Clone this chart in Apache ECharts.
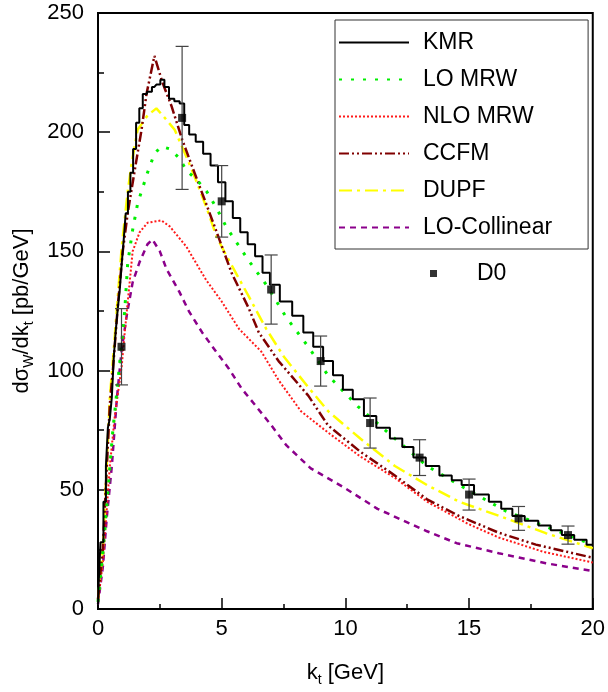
<!DOCTYPE html>
<html>
<head>
<meta charset="utf-8">
<script src="https://cdn.jsdelivr.net/npm/echarts@6.0.0/dist/echarts.min.js"></script>
<style>
  html, body { margin: 0; padding: 0; background: #fff; }
  #chart { width: 608px; height: 692px; }
</style>
</head>
<body>
<div id="chart"></div>
<script>
// values (k_t in GeV, dsigma/dk_t in pb/GeV)
const kmrX = [0, 0.04, 0.16, 0.28, 0.36, 0.44, 0.52, 0.6, 0.68, 0.76, 0.84, 0.92, 1.0, 1.08, 1.16, 1.26, 1.36, 1.48, 1.6, 1.74, 1.88, 2.08, 2.28, 2.44, 2.6, 2.77, 2.97, 3.2, 3.4, 3.57, 3.8, 4.1, 4.4, 4.7, 5.0, 5.3, 5.6, 5.9, 6.2, 6.5, 6.8, 7.1, 7.6, 8.1, 8.5, 8.9, 9.3, 9.7, 10.1, 10.5, 11.0, 11.5, 12.1, 12.5, 13.0, 13.5, 14.1, 14.5, 14.9, 15.5, 16.1, 16.5, 17.0, 17.5, 18.1, 18.5, 19.0, 19.5, 20];
const kmrY = [2, 9, 28, 45, 60, 76, 80, 89, 106, 117, 126, 134, 145, 155, 166, 175, 183, 193, 204, 210, 216, 217, 219, 220, 222, 219, 214, 213, 212, 203, 199, 196, 191, 186, 179, 171, 164, 158, 153, 148, 141, 136, 129, 123, 116, 110, 104, 98, 92, 88, 81, 76, 71.5, 68, 63.5, 60, 56, 54, 52, 48, 45, 42, 39, 37, 35, 33, 31, 29, 27];

const loMrwX = [0, 0.2, 0.4, 0.6, 0.8, 0.96, 1.08, 1.2, 1.4, 1.6, 2.0, 2.28, 2.56, 2.9, 3.3, 3.57, 4.0, 4.4, 4.8, 5.2, 6.1, 6.8, 7.6, 8.5, 9.3, 10.5, 12, 13.3, 14.6, 16.5, 18.5, 20];
const loMrwY = [3, 24, 49, 75, 95, 112, 125, 145, 159, 170, 183, 191, 194, 193, 189, 184, 180, 175, 168, 160, 146, 136, 122.5, 110, 98, 85, 71.5, 60, 52, 41, 33, 27];

const nloMrwX = [0, 0.2, 0.48, 0.68, 0.96, 1.08, 1.28, 1.4, 1.68, 2.0, 2.56, 2.9, 3.57, 4.37, 5.0, 5.7, 6.6, 7.3, 8.2, 9.3, 10.6, 12, 13.3, 15, 16.2, 18, 20];
const nloMrwY = [3, 20, 60, 81, 102, 116, 137, 150, 158, 162, 163, 160.5, 152, 138, 129, 117.5, 108, 96, 83, 74, 64, 55, 45, 35.5, 30, 24, 19.5];

const ccfmX = [0, 0.2, 0.48, 0.6, 0.8, 1.0, 1.2, 1.5, 1.76, 1.96, 2.28, 2.6, 2.97, 3.4, 3.9, 4.3, 4.8, 5.4, 6.1, 6.5, 7.3, 8.5, 9.3, 10.6, 12, 13.3, 14.6, 16.2, 17.7, 20];
const ccfmY = [4, 26, 86, 100, 127, 150, 166, 185, 201, 216, 232, 221, 211, 197, 183, 172, 158, 141, 126, 116, 104, 89.5, 77, 66, 56, 46, 39, 32, 27, 21.5];

const dupfX = [0, 0.2, 0.48, 0.6, 0.8, 0.96, 1.2, 1.36, 1.6, 2.0, 2.36, 2.7, 3.1, 3.5, 3.9, 4.4, 4.8, 5.2, 6.1, 6.8, 7.5, 8.5, 9.3, 10.6, 12, 13.3, 14.6, 16.5, 18.1, 20];
const dupfY = [4, 26, 89, 104, 131, 152, 175, 187, 201, 207, 210, 206, 201, 191.5, 181.5, 168, 156, 148, 131, 117.5, 106, 93, 83, 71.5, 60, 52, 45, 38, 31.8, 25.5];

const collX = [0, 0.2, 0.36, 0.56, 0.76, 0.96, 1.16, 1.4, 1.68, 2.0, 2.2, 2.5, 2.77, 3.29, 3.69, 4.21, 4.77, 5.29, 5.81, 6.37, 7.01, 7.62, 8.6, 10, 11.3, 13.3, 14.5, 16.2, 18.1, 20];
const collY = [2, 18, 39, 60, 88, 109, 123, 137, 145.5, 153, 155, 150, 142.6, 133, 124.6, 116, 108, 100.8, 92.4, 85.3, 77, 68.6, 59, 50.6, 42, 32.6, 27.6, 23.4, 19.2, 15.9];

const d0X = [0.95, 3.4, 5, 7, 9, 11, 13, 15, 17, 19];
const d0Y = [110, 206, 171, 134, 104, 78, 63.5, 48, 38, 31];
const d0Err = [16, 30, 15, 14.5, 10.5, 10.5, 7.5, 6.5, 5, 3.8];

const xTicks = [0, 5, 10, 15, 20];
const yTicks = [0, 50, 100, 150, 200, 250];

const pairs = (xs, ys) => xs.map((x, i) => [x, ys[i]]);
const font = 'Liberation Sans, Arial, Helvetica, sans-serif';

const chart = echarts.init(document.getElementById('chart'), null, { renderer: 'canvas' });

function lineSeries(name, xs, ys, color, width, type, extra) {
  return Object.assign({
    name: name,
    type: 'line',
    data: pairs(xs, ys),
    symbol: 'none',
    smooth: false,
    silent: true,
    lineStyle: { color: color, width: width, type: type },
    itemStyle: { color: color },
  }, extra || {});
}

const option = {
  animation: false,
  backgroundColor: '#fff',
  textStyle: { fontFamily: font },
  grid: {
    left: 98, right: 11, top: 13, bottom: 81,
    show: true, borderColor: '#000', borderWidth: 2,
  },
  legend: [{
    data: ['KMR', 'LO MRW', 'NLO MRW', 'CCFM', 'DUPF', 'LO-Collinear'],
    orient: 'vertical',
    left: 335,
    top: 20,
    itemWidth: 70,
    itemHeight: 14,
    itemGap: 14,
    padding: [11, 36, 10, 3],
    borderColor: '#333',
    borderWidth: 1,
    selectedMode: false,
    itemStyle: { opacity: 0 },
    textStyle: { fontSize: 23, color: '#000', fontFamily: font, padding: [0, 0, 0, 9] },
  }, {
    data: ['D0'],
    left: 430,
    top: 262,
    padding: 0,
    icon: 'rect',
    itemWidth: 7,
    itemHeight: 7,
    selectedMode: false,
    textStyle: { fontSize: 23, color: '#000', fontFamily: font, padding: [0, 0, 0, 35] },
  }],
  xAxis: {
    type: 'value',
    min: 0, max: 20, interval: 5,
    name: '{a|k}{s|t}{a| [GeV]}',
    nameLocation: 'middle',
    nameGap: 50,
    nameTextStyle: {
      rich: {
        a: { fontSize: 22, fontFamily: font, color: '#000' },
        s: { fontSize: 14, fontFamily: font, color: '#000', padding: [14, 0, 0, 0] },
      },
    },
    axisLine: { lineStyle: { color: '#000', width: 2 } },
    axisTick: { inside: true, length: 11, lineStyle: { color: '#000', width: 1.5 } },
    minorTick: { show: true, splitNumber: 2, length: 5, lineStyle: { color: '#000', width: 1.5 } },
    axisLabel: {
      fontSize: 22, color: '#000', margin: 9,
      formatter: v => (xTicks.includes(v) ? String(v) : ''),
    },
    splitLine: { show: false },
  },
  yAxis: {
    type: 'value',
    min: 0, max: 250, interval: 50,
    name: '{a|dσ}{s|W}{a|/dk}{s|t}{a| [pb/GeV]}',
    nameLocation: 'middle',
    nameGap: 57,
    nameRotate: 90,
    nameTextStyle: {
      rich: {
        a: { fontSize: 22, fontFamily: font, color: '#000' },
        s: { fontSize: 14, fontFamily: font, color: '#000', padding: [14, 0, 0, 0] },
      },
    },
    axisLine: { lineStyle: { color: '#000', width: 2 } },
    axisTick: { inside: true, length: 12, lineStyle: { color: '#000', width: 1.5 } },
    minorTick: { show: true, splitNumber: 2, length: 6, lineStyle: { color: '#000', width: 1.5 } },
    axisLabel: {
      fontSize: 22, color: '#000', margin: 14,
      formatter: v => (yTicks.includes(v) ? String(v) : ''),
    },
    splitLine: { show: false },
  },
  series: [
    lineSeries('LO-Collinear', collX, collY, '#8b008b', 2.5, [6, 5]),
    lineSeries('NLO MRW', nloMrwX, nloMrwY, '#ff1a1a', 2, [2, 2]),
    lineSeries('DUPF', dupfX, dupfY, '#ffff00', 2.5, [13, 5, 3, 5]),
    lineSeries('CCFM', ccfmX, ccfmY, '#800000', 2.5, [10, 3, 2, 3, 2, 3]),
    lineSeries('LO MRW', loMrwX, loMrwY, '#00ee00', 3, [3, 9]),
    lineSeries('KMR', kmrX, kmrY, '#000', 2, 'solid', { step: 'middle' }),
    {
      name: 'D0 err',
      type: 'custom',
      silent: true,
      data: d0X.map((x, i) => [x, d0Y[i] - d0Err[i], d0Y[i] + d0Err[i]]),
      renderItem: function (params, api) {
        const lo = api.coord([api.value(0), api.value(1)]);
        const hi = api.coord([api.value(0), api.value(2)]);
        const half = 6.5;
        const style = { stroke: '#444', lineWidth: 1.2 };
        return {
          type: 'group',
          children: [
            { type: 'line', shape: { x1: lo[0], y1: lo[1], x2: hi[0], y2: hi[1] }, style: style },
            { type: 'line', shape: { x1: lo[0] - half, y1: lo[1], x2: lo[0] + half, y2: lo[1] }, style: style },
            { type: 'line', shape: { x1: hi[0] - half, y1: hi[1], x2: hi[0] + half, y2: hi[1] }, style: style },
          ],
        };
      },
      z: 4,
    },
    {
      name: 'D0',
      type: 'scatter',
      data: pairs(d0X, d0Y),
      symbol: 'rect',
      symbolSize: 8,
      itemStyle: { color: '#000' },
      silent: true,
      z: 5,
    },
  ],
};

chart.setOption(option);
</script>
</body>
</html>
